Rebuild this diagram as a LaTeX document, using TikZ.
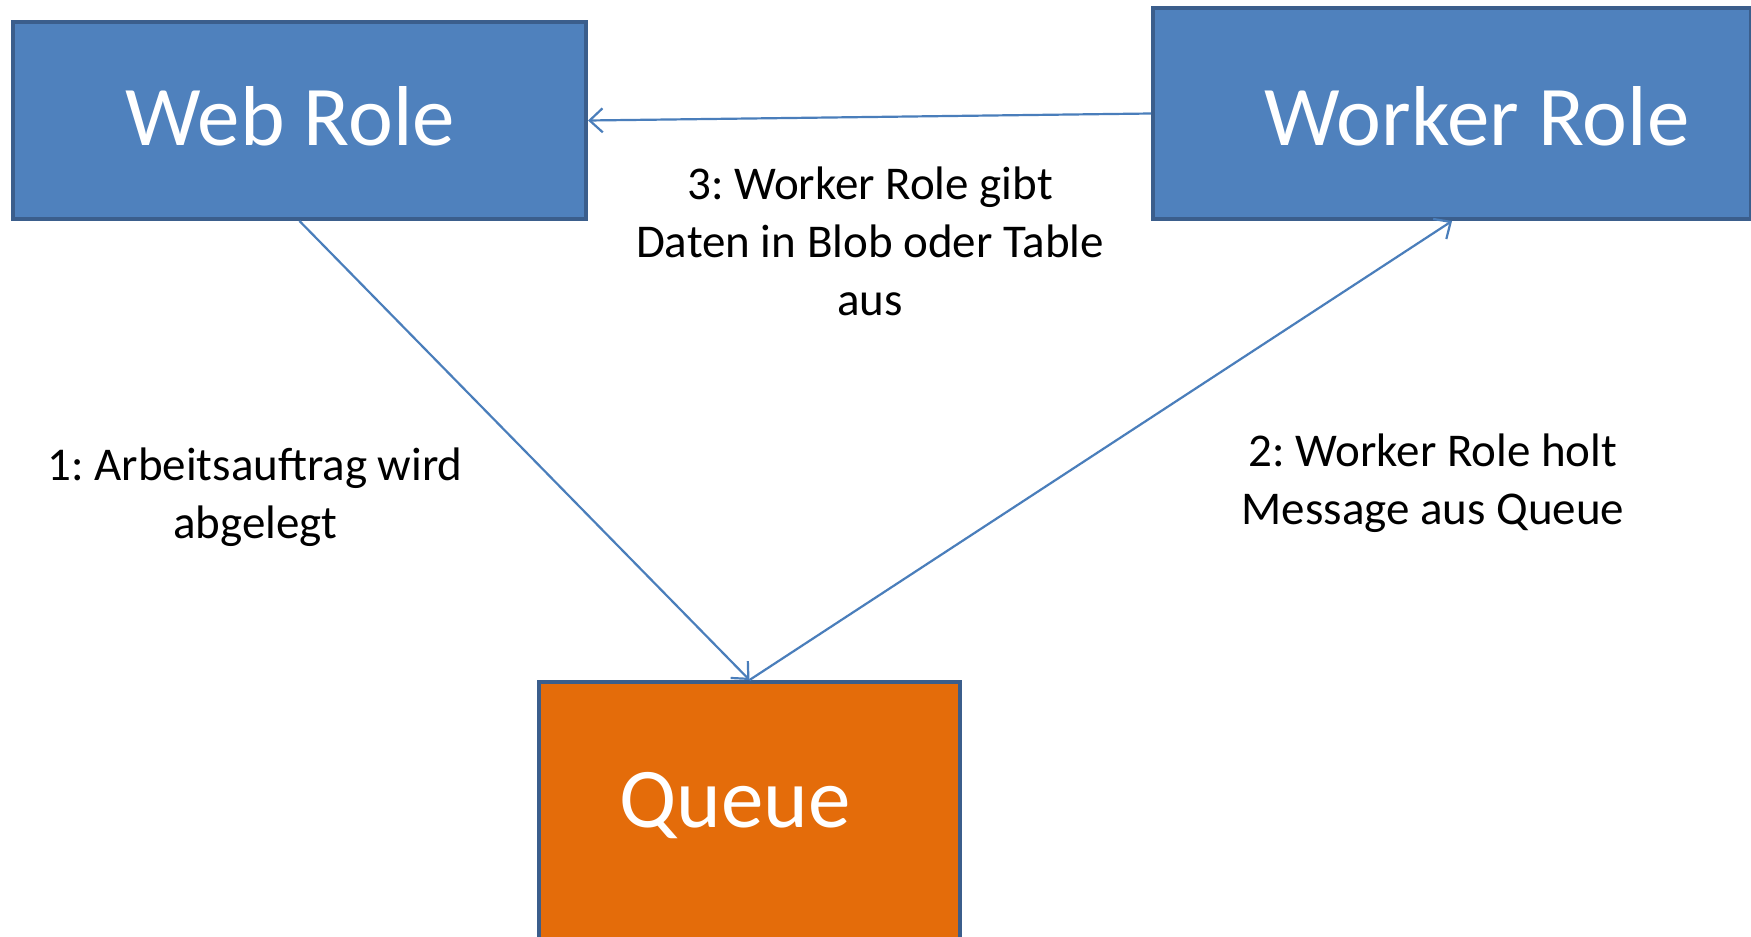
\documentclass[tikz,border=0pt]{standalone}
\usepackage{fontspec}
\setmainfont{Carlito}
\frenchspacing
\usetikzlibrary{arrows.meta}
\definecolor{boxblue}{HTML}{4F81BD}
\definecolor{boxedge}{HTML}{3B5E8C}
\definecolor{qorange}{HTML}{E46C0A}
\definecolor{arrblue}{HTML}{4A7EBB}
\tikzset{
  rolebox/.style={draw=boxedge, line width=4pt, fill=boxblue, rectangle, inner sep=0pt},
  queuebox/.style={draw=boxedge, line width=4pt, fill=qorange, rectangle, inner sep=0pt},
  boxtext/.style={text=white, font=\fontsize{85}{100}\selectfont, inner sep=0pt},
  lbl/.style={font=\fontsize{47}{58}\selectfont, align=center, inner sep=0pt},
  conn/.style={draw=arrblue, line width=2.2pt, -{Straight Barb[length=13pt,width=24pt,line width=2.2pt]}}
}
\begin{document}
\begin{tikzpicture}[x=1pt,y=-1pt]
\useasboundingbox[fill=white] (0,0) rectangle (1751,937);
\node[rolebox, minimum width=573pt, minimum height=197pt] (web) at (299.5,120.5) {};
\node[rolebox, minimum width=598pt, minimum height=211pt] (worker) at (1452,113.5) {};
\node[queuebox, minimum width=421pt, minimum height=270pt] (queue) at (749.5,817) {};
\node[boxtext] (webt) at (290,116) {Web Role};
\node[boxtext] (workert) at (1477,116) {Worker Role};
\node[boxtext] (queuet) at (735,806) {Queue};
\draw[conn] (worker.west) -- (web.east);
\draw[conn] (web.south) -- (queue.north);
\draw[conn] (queue.north) -- (worker.south);
\node[lbl] (l1) at (255,497) {1: Arbeitsauftrag wird\\abgelegt};
\node[lbl] (l2) at (1433,483) {2: Worker Role holt\\Message aus Queue};
\node[lbl] (l3) at (870,241) {3: Worker Role gibt\\Daten in Blob oder Table\\aus};
\end{tikzpicture}
\end{document}
